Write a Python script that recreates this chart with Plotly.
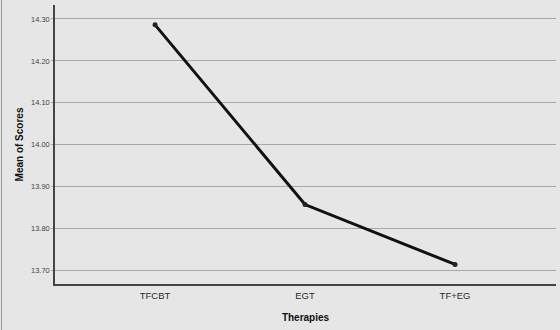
import plotly.graph_objects as go

therapies = ["TFCBT", "EGT", "TF+EG"]
mean_scores = [14.286, 13.857, 13.714]
y_ticks = [13.70, 13.80, 13.90, 14.00, 14.10, 14.20, 14.30]
y_tick_labels = ["13.70", "13.80", "13.90", "14.00", "14.10", "14.20", "14.30"]

W, H = 560, 330
L, R, T, B = 55, 4, 5, 46

fig = go.Figure()
fig.add_trace(go.Scatter(
    x=list(range(len(therapies))), y=mean_scores,
    mode="lines+markers",
    line=dict(color="#111111", width=3),
    marker=dict(color="#222222", size=5),
    hoverinfo="skip",
))

bg = "#e6e6e6"
fig.update_layout(
    width=W, height=H,
    margin=dict(l=L, r=R, t=T, b=B, pad=0),
    paper_bgcolor=bg, plot_bgcolor=bg,
    showlegend=False,
    font=dict(family="Liberation Sans, Arial, sans-serif", color="#333333"),
)
fig.update_xaxes(
    range=[-0.667, 2.673],
    tickvals=list(range(len(therapies))), ticktext=therapies,
    tickfont=dict(size=9.5, color="#2a2a2a"),
    ticklabelstandoff=2,
    showgrid=False, zeroline=False,
    showline=True, linecolor="#444444", linewidth=1.5,
    ticks="", ticklen=0,
    title=dict(text="<b>Therapies</b>", font=dict(size=10, color="#111111"), standoff=14),
)
fig.update_yaxes(
    range=[13.6673, 14.3334],
    tickvals=y_ticks, ticktext=y_tick_labels,
    tickfont=dict(size=7.5, color="#444444"),
    showgrid=True, gridcolor="#a8a8a8", gridwidth=1,
    zeroline=False,
    showline=True, linecolor="#444444", linewidth=1.5,
    ticks="outside", ticklen=2, tickcolor="#a8a8a8",
    title=dict(text="<b>Mean of Scores</b>", font=dict(size=10, color="#111111"), standoff=5),
)
# thin frame line at left edge of the picture
pw = W - L - R
fig.add_shape(type="line", xref="paper", yref="paper",
              x0=(1.5 - L) / pw, x1=(1.5 - L) / pw, y0=-B / (H - T - B), y1=1 + T / (H - T - B),
              line=dict(color="#9a9a9a", width=1))

fig.write_html("out.html")
